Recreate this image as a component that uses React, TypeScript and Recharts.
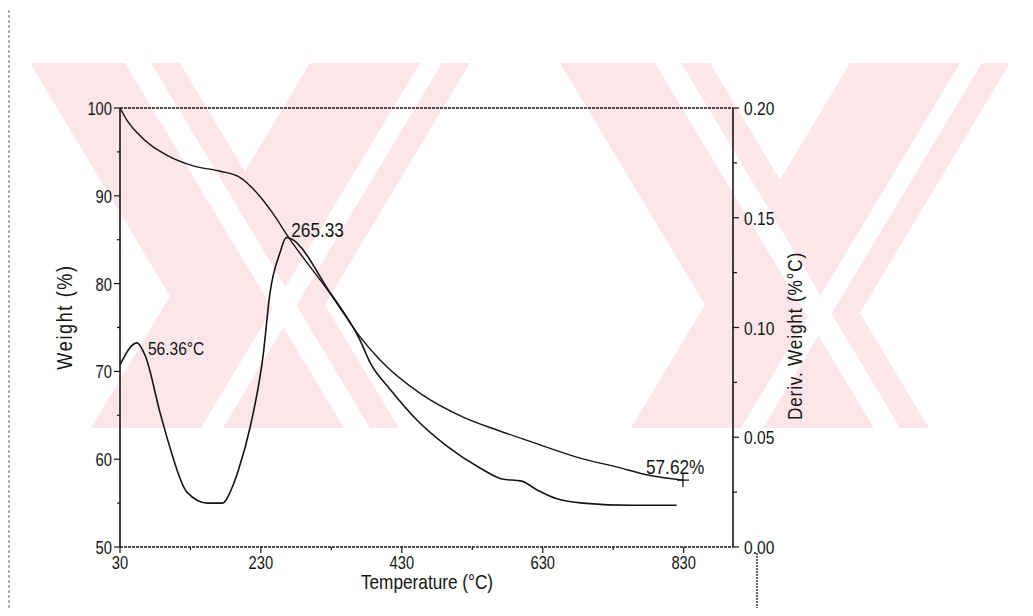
import { LineChart, Line, XAxis, YAxis, ReferenceLine, ReferenceDot } from 'recharts'

// TGA weight curve (left axis, %)
const weightTemp = [30, 40, 54, 97, 134, 172, 200, 229, 247, 269, 328, 371, 399, 456, 517, 566, 613, 684, 736, 779, 829]
const weightPct = [100, 98.6, 97.2, 94.6, 93.4, 92.8, 92.1, 89.9, 88.0, 85.3, 78.9, 73.9, 71.3, 67.5, 64.8, 63.3, 62.0, 60.1, 59.1, 58.2, 57.62]

// derivative curve (right axis, %/°C)
const derivTemp = [30, 54, 66, 87, 105, 111, 125, 154, 176, 189, 198, 215, 233, 243, 257, 266, 328, 371, 385, 413, 451, 494, 541, 572, 600, 622, 650, 687, 758, 820]
const derivVal = [0.083, 0.093, 0.087, 0.061, 0.041, 0.035, 0.025, 0.02, 0.02, 0.027, 0.035, 0.055, 0.087, 0.116, 0.134, 0.141, 0.116, 0.094, 0.084, 0.072, 0.058, 0.046, 0.036, 0.031, 0.03, 0.026, 0.022, 0.02, 0.019, 0.019]

const xMajor = [30, 230, 430, 630, 830]
const xMinor = [130, 330, 530, 730]
const wMajor = [50, 60, 70, 80, 90, 100]
const wMinor = [55, 65, 75, 85, 95]
const dMajor = [0, 0.05, 0.1, 0.15, 0.2]
const dMinor = [0.025, 0.075, 0.125, 0.175]

const weightData = weightTemp.map((t, i) => ({ t, w: weightPct[i] }))
const derivData = derivTemp.map((t, i) => ({ t, d: derivVal[i] }))

const FONT = "'Liberation Sans', Arial, sans-serif"
const INK = '#151515'
const PINK = '#fce6ea'

// tickSize + tickMargin, used to find the axis line from the tick props
const OFF = 8

// narrow text: Liberation Sans squeezed to roughly Arial Narrow proportions
const Txt = ({ x, y, size, anchor = 'start', rotate = 0, spacing = 0, children }: any) => (
  <text
    transform={`translate(${x} ${y}) rotate(${rotate}) scale(0.82 1)`}
    textAnchor={anchor}
    fontFamily={FONT}
    fontSize={size}
    letterSpacing={spacing}
    fill={INK}
    stroke="none"
  >
    {children}
  </text>
)

const XTick = ({ x, y, payload }: any) => {
  const v = payload.value
  const major = xMajor.includes(v)
  const ay = y - OFF
  return (
    <g>
      <line x1={x} x2={x} y1={ay} y2={ay + (major ? 6 : 3)} stroke={INK} strokeWidth={1.2} />
      {major && <Txt x={x} y={ay + 22} size={18} anchor="middle">{v}</Txt>}
    </g>
  )
}

const LeftTick = ({ x, y, payload }: any) => {
  const v = payload.value
  const major = wMajor.includes(v)
  const ax = x + OFF
  return (
    <g>
      <line x1={ax} x2={ax - (major ? 6 : 3)} y1={y} y2={y} stroke={INK} strokeWidth={1.2} />
      {major && <Txt x={ax - 8} y={y + 7} size={18} anchor="end">{v}</Txt>}
    </g>
  )
}

const RightTick = ({ x, y, payload }: any) => {
  const v = payload.value
  const major = dMajor.some(m => Math.abs(m - v) < 1e-9)
  const ax = x - OFF
  return (
    <g>
      <line x1={ax} x2={ax + (major ? 6 : 4)} y1={y} y2={y} stroke={INK} strokeWidth={1.2} />
      {major && <Txt x={ax + 11} y={y + 7} size={19}>{v.toFixed(2)}</Txt>}
    </g>
  )
}

const note = (text: string, dx: number, dy: number, size = 21) => (p: any) => (
  <Txt x={p.cx + dx} y={p.cy + dy} size={size}>{text}</Txt>
)

const endMark = (p: any) => (
  <g>
    <g stroke={INK} strokeWidth={1.3}>
      <line x1={p.cx - 6} x2={p.cx + 6} y1={p.cy} y2={p.cy} />
      <line x1={p.cx} x2={p.cx} y1={p.cy - 6} y2={p.cy + 7} />
    </g>
    <Txt x={p.cx - 37} y={p.cy - 6} size={21}>57.62%</Txt>
  </g>
)

// diagonal watermark stripes of the scanned page
const WM_TOP = 63
const WM_BOT = 428
const SHIFT = 0.6 * (WM_BOT - WM_TOP)
const band = (x0: number, w: number, dir: number) => {
  const s = dir * SHIFT
  return `${x0},${WM_TOP} ${x0 + w},${WM_TOP} ${x0 + w + s},${WM_BOT} ${x0 + s},${WM_BOT}`
}
const downArms = [30, 560]
const upArms = [310, 850]

export default function App() {
  return (
    <div style={{ position: 'relative', width: 1017, height: 600, background: '#fff' }}>
      <svg width={1033} height={616} style={{ position: 'absolute', left: -8, top: -8 }}>
        <defs>
          <clipPath id="wm">
            <rect x={0} y={WM_TOP} width={1033} height={WM_BOT - WM_TOP} />
          </clipPath>
        </defs>
        <g clipPath="url(#wm)">
          {downArms.map(x0 => <polygon key={'d' + x0} points={band(x0, 150, 1)} fill={PINK} />)}
          {upArms.map(x0 => <polygon key={'u' + x0} points={band(x0, 160, -1)} fill={PINK} />)}
          {downArms.map(x0 => <polygon key={'dw' + x0} points={band(x0 + 95, 26, 1)} fill="#fff" />)}
          {upArms.map(x0 => <polygon key={'uw' + x0} points={band(x0 + 110, 22, -1)} fill="#fff" />)}
        </g>
        <line x1={9} x2={9} y1={0} y2={616} stroke="#666" strokeWidth={1} strokeDasharray="3 2" />
        <line x1={757} x2={757} y1={553} y2={612} stroke="#333" strokeWidth={1.5} strokeDasharray="2 1" />
        <Txt x={427} y={589} size={21} anchor="middle">Temperature (°C)</Txt>
        <Txt x={72} y={317} size={22} anchor="middle" rotate={-90} spacing={2}>Weight (%)</Txt>
        <Txt x={802} y={336} size={21} anchor="middle" rotate={-90} spacing={1}>Deriv. Weight (%°C)</Txt>
      </svg>
      <LineChart
        width={1017}
        height={600}
        margin={{ top: 100, right: 222, bottom: 21, left: 42 }}
        style={{ position: 'absolute', left: 0, top: 0 }}
      >
        <XAxis
          type="number"
          dataKey="t"
          domain={[30, 900]}
          ticks={[...xMajor, ...xMinor].sort((a, b) => a - b)}
          interval={0}
          height={40}
          tickSize={6}
          tickMargin={2}
          tickLine={false}
          axisLine={{ stroke: INK, strokeWidth: 1.4, strokeDasharray: '3 1' }}
          tick={<XTick />}
          allowDataOverflow
        />
        <YAxis
          yAxisId="left"
          type="number"
          domain={[50, 100]}
          ticks={[...wMajor, ...wMinor].sort((a, b) => a - b)}
          interval={0}
          width={70}
          tickSize={6}
          tickMargin={2}
          tickLine={false}
          axisLine={{ stroke: INK, strokeWidth: 1.6 }}
          tick={<LeftTick />}
        />
        <YAxis
          yAxisId="right"
          orientation="right"
          type="number"
          domain={[0, 0.2]}
          ticks={[...dMajor, ...dMinor].sort((a, b) => a - b)}
          interval={0}
          width={70}
          tickSize={6}
          tickMargin={2}
          tickLine={false}
          axisLine={{ stroke: INK, strokeWidth: 1.6 }}
          tick={<RightTick />}
        />
        <ReferenceLine yAxisId="left" y={100} stroke={INK} strokeWidth={1.3} strokeDasharray="3 1" />
        <Line
          data={weightData}
          yAxisId="left"
          dataKey="w"
          type="monotone"
          stroke={INK}
          strokeWidth={1.4}
          dot={false}
          isAnimationActive={false}
        />
        <Line
          data={derivData}
          yAxisId="right"
          dataKey="d"
          type="monotone"
          stroke={INK}
          strokeWidth={1.6}
          dot={false}
          isAnimationActive={false}
        />
        <ReferenceDot yAxisId="right" x={266} y={0.141} r={0} shape={note('265.33', 5, -1)} />
        <ReferenceDot yAxisId="right" x={54} y={0.093} r={0} shape={note('56.36°C', 11, 12, 19)} />
        <ReferenceDot yAxisId="left" x={829} y={57.62} r={0} shape={endMark} />
      </LineChart>
    </div>
  )
}
